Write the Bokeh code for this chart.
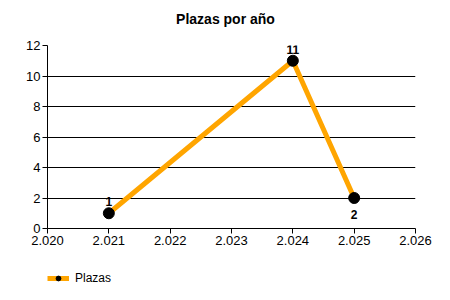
from bokeh.plotting import figure
from bokeh.layouts import column
from bokeh.models import ColumnDataSource, FixedTicker, Legend, LegendItem, Range1d, LabelSet, Label
from bokeh.core.properties import value
from bokeh.embed import file_html
from bokeh.resources import INLINE

years = [2021, 2024, 2025]
plazas = [1, 11, 2]
labels = ["1", "11", "2"]
x_ticks = [2020, 2021, 2022, 2023, 2024, 2025, 2026]
x_tick_labels = ["2.020", "2.021", "2.022", "2.023", "2.024", "2.025", "2.026"]
y_ticks = [0, 2, 4, 6, 8, 10, 12]
series_name = "Plazas"
title_text = "Plazas por año"

LINE_COLOR = "#FFA500"
fnt = "Liberation Sans"


def strip(h):
    f = figure(width=450, height=h, output_backend="svg", toolbar_location=None,
               x_range=Range1d(0, 1), y_range=Range1d(0, 1), min_border=0,
               x_axis_location=None, y_axis_location=None)
    f.outline_line_color = None
    f.grid.visible = False
    return f


# title strip (its frame is aligned with the main plot's frame)
tf = strip(30)
tf.add_layout(Label(x=178, y=12, x_units="screen", y_units="screen", text=title_text,
                    text_font=fnt, text_font_size="14px", text_font_style="bold",
                    text_color="black", text_align="center", text_baseline="middle",
                    anchor="center"))

src = ColumnDataSource(dict(x=years, y=plazas, lab=labels, yo=[7, 7, -21]))

p = figure(frame_width=368, frame_height=183, output_backend="svg", toolbar_location=None,
           x_range=Range1d(2020, 2026), y_range=Range1d(0, 12),
           min_border_left=47, min_border_right=35, min_border_top=15, min_border_bottom=27)
p.outline_line_color = None

for ax in (p.xaxis[0], p.yaxis[0]):
    ax.axis_line_color = "black"
    ax.major_tick_line_color = "black"
    ax.major_tick_out = 5
    ax.major_tick_in = 0
    ax.minor_tick_line_color = None
    ax.major_label_text_font = fnt
    ax.major_label_text_font_size = "13px"
    ax.major_label_text_color = "black"
    ax.major_label_standoff = 2

p.xaxis.ticker = FixedTicker(ticks=x_ticks)
p.xaxis.major_label_overrides = {t: l for t, l in zip(x_ticks, x_tick_labels)}
p.yaxis.ticker = FixedTicker(ticks=y_ticks)

p.xgrid.grid_line_color = None
p.ygrid.grid_line_color = "black"
p.ygrid.grid_line_width = 1

p.line("x", "y", source=src, line_color=LINE_COLOR, line_width=5)
p.scatter("x", "y", source=src, size=11, fill_color="black", line_color="black")

lbl = LabelSet(x="x", y="y", text="lab", source=src, y_offset="yo",
               text_font=value(fnt), text_font_size=value("12px"), text_font_style=value("bold"),
               text_color="black", text_align="center", text_baseline="bottom")
p.add_layout(lbl)

# legend strip
lf = strip(45)
dummy = ColumnDataSource(dict(x=[5], y=[5]))
l1 = lf.line("x", "y", source=dummy, line_color=LINE_COLOR, line_width=5)
l2 = lf.scatter("x", "y", source=dummy, size=7, fill_color="black", line_color="black")
legend = Legend(items=[LegendItem(label=series_name, renderers=[l1, l2])],
                location="left", orientation="horizontal",
                border_line_color=None, background_fill_alpha=0,
                label_text_font=fnt, label_text_font_size="12px", label_text_color="black",
                glyph_width=22, glyph_height=12, margin=0, padding=4,
                label_standoff=6)
lf.add_layout(legend)

open("out.html", "w").write(file_html(column(tf, p, lf, spacing=0), INLINE))
